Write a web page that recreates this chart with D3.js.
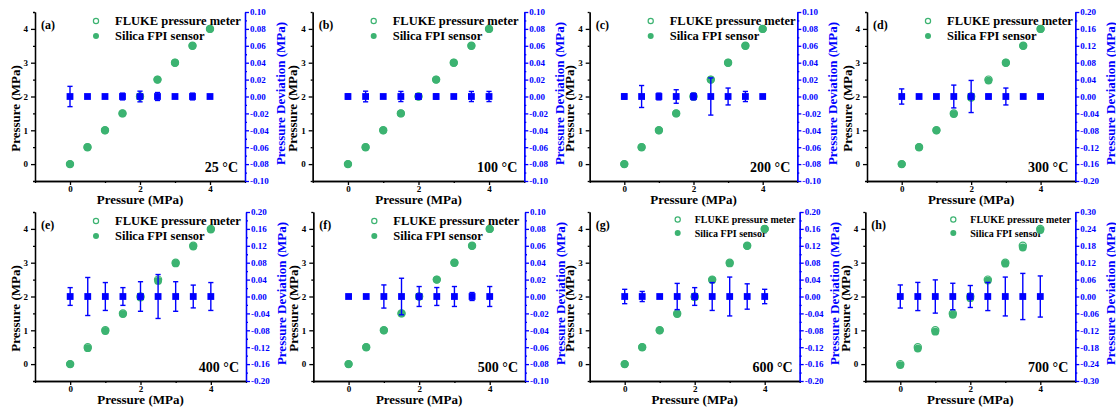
<!DOCTYPE html>
<html><head><meta charset="utf-8">
<script src="https://cdn.jsdelivr.net/npm/d3@7/dist/d3.min.js"></script>
<style>html,body{margin:0;padding:0;background:#fff;}svg{display:block;font-family:"Liberation Serif","Times New Roman",serif;font-weight:bold;}</style>
</head><body>
<svg id="chart" width="1116" height="407"></svg>
<script>
// ---------- data ----------
const pressures = [0, 0.5, 1, 1.5, 2, 2.5, 3, 3.5, 4];
const panelLabels = ["(a)", "(b)", "(c)", "(d)", "(e)", "(f)", "(g)", "(h)"];
const temperatures = ["25 °C", "100 °C", "200 °C", "300 °C", "400 °C", "500 °C", "600 °C", "700 °C"];
const deviationLimits = [0.10, 0.10, 0.10, 0.20, 0.20, 0.10, 0.20, 0.30];
const deviationSteps = [0.02, 0.02, 0.02, 0.04, 0.04, 0.02, 0.04, 0.06];
const xTicks = [0, 2, 4];
const yTicks = [0, 1, 2, 3, 4];
const flukeReadings = [0, 0.5, 1, 1.5, 2, 2.5, 3, 3.5, 4];
// Silica FPI sensor readings (MPa)
const fpi25  = [0, 0.5, 1, 1.5, 2, 2.5, 3, 3.5, 4];
const fpi100 = [0, 0.5, 1, 1.5, 2, 2.5, 3, 3.5, 4];
const fpi200 = [0, 0.5, 1, 1.5, 2, 2.5, 3, 3.5, 4];
const fpi300 = [0, 0.5, 1, 1.48, 1.96, 2.47, 3, 3.5, 4];
const fpi400 = [0, 0.47, 0.98, 1.48, 1.97, 2.46, 2.98, 3.48, 3.98];
const fpi500 = [0, 0.5, 1, 1.5, 2, 2.5, 3, 3.5, 4];
const fpi600 = [0, 0.5, 1, 1.48, 1.98, 2.49, 2.98, 3.5, 4];
const fpi700 = [-0.03, 0.46, 0.96, 1.46, 1.95, 2.47, 2.97, 3.45, 3.97];
// mean pressure deviation (MPa) and its error bar half-width
const deviationMean = [0, 0, 0, 0, 0, 0, 0, 0, 0];
const err25  = [0.012, 0.001, 0.001, 0.004, 0.0063, 0.0047, 0.001, 0.004, 0.002];
const err100 = [0.003, 0.0063, 0.001, 0.006, 0.003, 0.003, 0.001, 0.006, 0.006];
const err200 = [0.003, 0.013, 0.004, 0.008, 0.004, 0.022, 0.010, 0.006, 0.001];
const err300 = [0.018, 0.001, 0.003, 0.027, 0.038, 0.005, 0.020, 0.003, 0.001];
const err400 = [0.021, 0.045, 0.033, 0.021, 0.035, 0.052, 0.035, 0.027, 0.033];
const err500 = [0.001, 0.001, 0.0137, 0.0216, 0.0118, 0.0106, 0.0118, 0.0047, 0.0118];
const err600 = [0.017, 0.012, 0.001, 0.031, 0.021, 0.033, 0.046, 0.030, 0.017];
const err700 = [0.041, 0.050, 0.059, 0.047, 0.039, 0.050, 0.069, 0.082, 0.073];

const fpiSets = [fpi25, fpi100, fpi200, fpi300, fpi400, fpi500, fpi600, fpi700];
const errSets = [err25, err100, err200, err300, err400, err500, err600, err700];

// ---------- layout ----------
const boxes = [
  [35, 245, 12, 181], [312.7, 524.3, 12, 181], [589.7, 797.3, 12, 181], [867, 1075.3, 12, 181],
  [35, 246, 212, 381], [313.3, 525, 212, 381], [589.7, 799.7, 212, 381], [865.3, 1075.3, 212, 381]
];
const GREEN = "#3cb371", BLUE = "#0000ff";
const svg = d3.select("#chart");
svg.append("rect").attr("width", 1116).attr("height", 407).attr("fill", "#fff");

const fmtDev = v => d3.format(".2f")(v).replace("−", "-");

panelLabels.forEach((lab, i) => {
  const [L, R, T, B] = boxes[i];
  const g = svg.append("g");
  const x = d3.scaleLinear().domain([-1, 5]).range([L, R]);
  const y = d3.scaleLinear().domain([-0.5, 4.5]).range([B, T]);
  const lim = deviationLimits[i], step = deviationSteps[i];
  const yr = d3.scaleLinear().domain([-lim, lim]).range([B, T]);

  // axes
  const xAxis = d3.axisBottom(x).tickValues(xTicks).tickSize(4).tickSizeOuter(0).tickFormat(d3.format("d"));
  const xMinor = d3.axisBottom(x).tickValues([-1, 1, 3, 5]).tickSize(2).tickSizeOuter(0).tickFormat("");
  const yAxis = d3.axisLeft(y).tickValues(yTicks).tickSize(4).tickSizeOuter(0).tickFormat(d3.format("d"));
  const yMinor = d3.axisLeft(y).tickValues([-0.5, 0.5, 1.5, 2.5, 3.5, 4.5]).tickSize(2).tickSizeOuter(0).tickFormat("");
  const rTicks = d3.range(-5, 6).map(k => +(k * step).toFixed(4));
  const rMinorTicks = d3.range(-5, 5).map(k => +((k + 0.5) * step).toFixed(4));
  const rAxis = d3.axisRight(yr).tickValues(rTicks).tickSize(4).tickSizeOuter(0).tickFormat(fmtDev);
  const rMinor = d3.axisRight(yr).tickValues(rMinorTicks).tickSize(2).tickSizeOuter(0).tickFormat("");

  const styleAxis = (sel, color, fs) => {
    sel.selectAll("path,line").attr("stroke", color).attr("stroke-width", 1.3);
    sel.selectAll("text").attr("fill", color).attr("font-size", fs).attr("font-family", "Liberation Serif, serif").attr("font-weight", "bold");
  };
  g.append("g").attr("transform", `translate(0,${B})`).call(xMinor).call(s => styleAxis(s, "#000", 9));
  g.append("g").attr("transform", `translate(0,${B})`).call(xAxis).call(s => styleAxis(s, "#000", 9))
    .selectAll("text").attr("y", 5).attr("dy", "0.71em");
  g.append("g").attr("transform", `translate(${L},0)`).call(yMinor).call(s => styleAxis(s, "#000", 9));
  g.append("g").attr("transform", `translate(${L},0)`).call(yAxis).call(s => styleAxis(s, "#000", 9));
  g.append("g").attr("transform", `translate(${R},0)`).call(rMinor).call(s => styleAxis(s, BLUE, 9));
  g.append("g").attr("transform", `translate(${R},0)`).call(rAxis).call(s => styleAxis(s, BLUE, 9))
    .selectAll("text").attr("x", 5);

  // axis titles
  g.append("text").attr("x", (L + R) / 2).attr("y", B + 23).attr("text-anchor", "middle")
    .attr("font-size", 13).text("Pressure (MPa)");
  g.append("text").attr("transform", `translate(${L - 20},${(T + B) / 2 + 12}) rotate(-90)`)
    .attr("text-anchor", "middle").attr("dy", "0.35em").attr("font-size", 13).text("Pressure (MPa)");
  g.append("text").attr("transform", `translate(${R + 35},${(T + B) / 2 - 3}) rotate(-90)`)
    .attr("text-anchor", "middle").attr("dy", "0.35em").attr("font-size", 13).attr("fill", BLUE)
    .text("Pressure Deviation (MPa)");

  // panel label & temperature
  g.append("text").attr("x", L + 6).attr("y", T + 13).attr("dy", "0.35em").attr("font-size", 12).text(lab);
  g.append("text").attr("x", R - 7).attr("y", B - 14).attr("dy", "0.35em").attr("text-anchor", "end")
    .attr("font-size", 14).text(temperatures[i]);

  // legend
  const small = i >= 6;
  const lfs = small ? 10 : 12.5;
  const symX = L + (small ? 88 : 61), txtX = L + (small ? 105 : 80);
  const row1 = T + (small ? 7.5 : 9), row2 = T + (small ? 21 : 24);
  g.append("circle").attr("cx", symX).attr("cy", row1).attr("r", 2.6).attr("fill", "none")
    .attr("stroke", GREEN).attr("stroke-width", 1.2);
  g.append("circle").attr("cx", symX).attr("cy", row2).attr("r", 3).attr("fill", GREEN);
  g.append("text").attr("x", txtX).attr("y", row1).attr("dy", "0.35em").attr("font-size", lfs).text("FLUKE pressure meter");
  g.append("text").attr("x", txtX).attr("y", row2).attr("dy", "0.35em").attr("font-size", lfs).text("Silica FPI sensor");

  // green points
  g.selectAll(".fl").data(pressures).enter().append("circle")
    .attr("cx", d => x(d)).attr("cy", (d, j) => y(flukeReadings[j])).attr("r", 3.6)
    .attr("fill", "none").attr("stroke", GREEN).attr("stroke-width", 1.2);
  g.selectAll(".fp").data(pressures).enter().append("circle")
    .attr("cx", d => x(d)).attr("cy", (d, j) => y(fpiSets[i][j])).attr("r", 3.9).attr("fill", GREEN);

  // deviation error bars and squares
  const errs = errSets[i];
  const eb = g.append("g").attr("stroke", BLUE).attr("stroke-width", 1.4);
  pressures.forEach((p, j) => {
    const cx = x(p), m = deviationMean[j], e = errs[j];
    const y1 = yr(m + e), y2 = yr(m - e);
    eb.append("line").attr("x1", cx).attr("x2", cx).attr("y1", y1).attr("y2", y2);
    eb.append("line").attr("x1", cx - 2.6).attr("x2", cx + 2.6).attr("y1", y1).attr("y2", y1);
    eb.append("line").attr("x1", cx - 2.6).attr("x2", cx + 2.6).attr("y1", y2).attr("y2", y2);
  });
  g.selectAll(".sq").data(pressures).enter().append("rect")
    .attr("x", d => x(d) - 3.4).attr("y", (d, j) => yr(deviationMean[j]) - 3.4)
    .attr("width", 6.8).attr("height", 6.8).attr("fill", BLUE);
});
</script>
</body></html>
